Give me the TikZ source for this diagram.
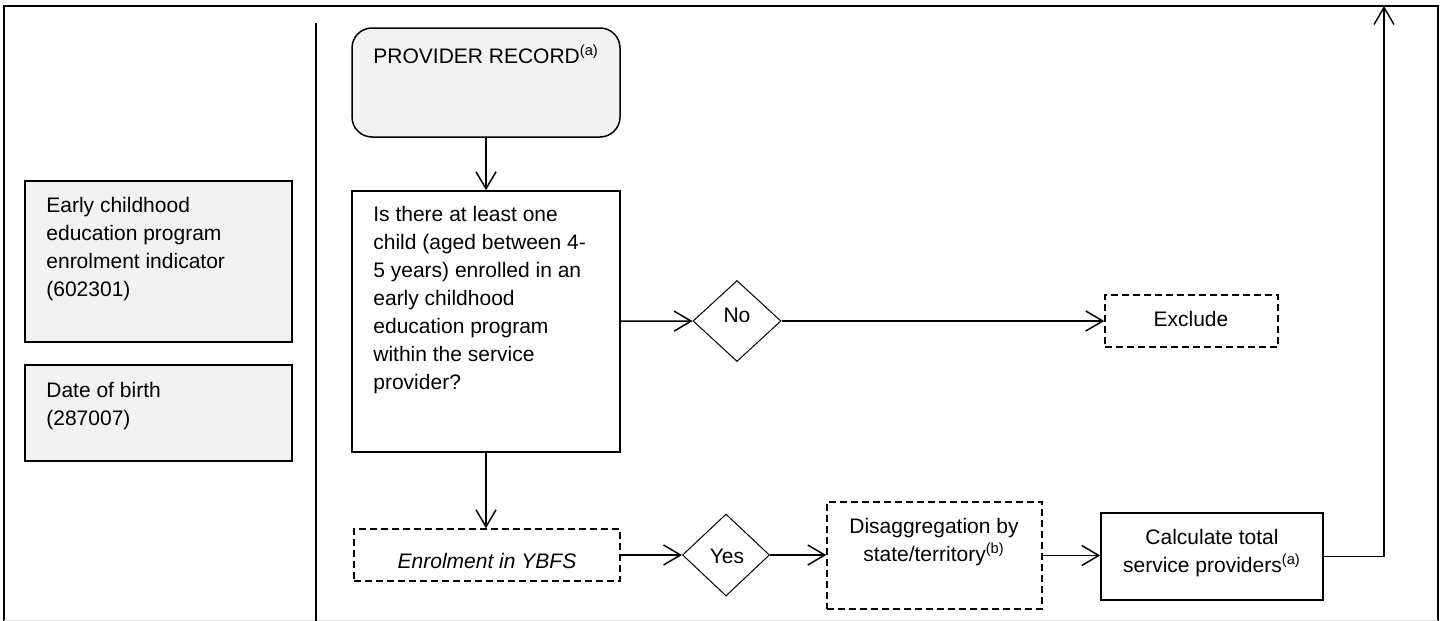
\documentclass[tikz,border=0pt]{standalone}
\usepackage{fontspec}
\setmainfont{Liberation Sans}
\usetikzlibrary{arrows.meta,shapes.geometric,fit}
\definecolor{boxgrey}{HTML}{F2F2F2}
\tikzset{
  txt/.style={inner sep=0pt, font=\fontsize{10.5}{14}\selectfont, align=left},
  ctxt/.style={txt, align=center},
  greybox/.style={draw, fill=boxgrey, line width=0.75pt, inner sep=0pt},
  plainbox/.style={draw, line width=0.75pt, inner sep=0pt},
  dashbox/.style={plainbox, dash pattern=on 3.5pt off 2pt},
  decision/.style={draw, diamond, line width=0.5pt, inner sep=0pt},
  flow/.style={line width=0.75pt, -{Straight Barb[length=8.5pt,width=10pt,line width=0.75pt]}},
}
\begin{document}
\begin{tikzpicture}[x=0.5pt,y=-0.5pt]
	\useasboundingbox (0,0) rectangle (1442,621);
	% Frame and divider
	\draw [line width=0.75pt] (4,621) |- (1438,6) -- (1438,621);
	\draw [black!15, line width=0.75pt] (4,620.6) -- (1438,620.6);
	\draw [line width=0.75pt] (316,23) -- (316,621);
	% Data items
	\node [greybox, fit={(25,181)(292,342)}] (ecep) {};
	\node [txt, anchor=north west] (eceptxt) at (46,197) {Early childhood\\education program\\enrolment indicator\\(602301)};
	\node [greybox, fit={(25,365)(292,461)}] (dob) {};
	\node [txt, anchor=north west] (dobtxt) at (46,382) {Date of birth\\(287007)};
	% Flow
	\node [greybox, rounded corners=10pt, fit={(352,28)(620,137)}] (prov) {};
	\node [txt, anchor=base west] (provtxt) at (373,63) {PROVIDER RECORD\textsuperscript{(a)}};
	\node [plainbox, fit={(352,191)(620,452)}] (quest) {};
	\node [txt, anchor=north west] (questtxt) at (373,206) {Is there at least one\\child (aged between 4-\\5 years) enrolled in an\\early childhood\\education program\\within the service\\provider?};
	\node [decision, minimum width=44pt, minimum height=40.5pt] (no) at (737,321) {};
	\node [ctxt, anchor=base] (notxt) at (737,322) {No};
	\node [dashbox, fit={(1105,295)(1278,347)}] (excl) {};
	\node [ctxt, anchor=base] (excltxt) at (1191,326) {Exclude};
	\node [dashbox, fit={(354,529)(620,581)}] (enrol) {};
	\node [ctxt, anchor=base] (enroltxt) at (487,568) {\textit{Enrolment in YBFS}};
	\node [decision, minimum width=43.5pt, minimum height=41pt] (yes) at (726,555) {};
	\node [ctxt, anchor=base] (yestxt) at (727,563) {Yes};
	\node [dashbox, fit={(827,502)(1042,609)}] (disagg) {};
	\node [ctxt, anchor=north] (disaggtxt) at (934,518) {Disaggregation by\\state/territory\textsuperscript{(b)}};
	\node [plainbox, fit={(1101,513)(1323,600)}] (calc) {};
	\node [ctxt, anchor=north] (calctxt) at (1212,529) {Calculate total\\service providers\textsuperscript{(a)}};
	\coordinate (top) at (1384,6);
	% Connectors
	\draw [flow] (prov) -- (quest);
	\draw [flow] (quest) -- (no);
	\draw [flow] (no) -- (excl);
	\draw [flow] (quest.south) -- (enrol.north -| quest.south);
	\draw [flow] (enrol) -- (yes);
	\draw [flow] (yes.east) -- (yes.east -| disagg.west);
	\draw [flow] (disagg.east) -- (disagg.east -| calc.west);
	\draw [flow] (calc.east) -| (top);
\end{tikzpicture}
\end{document}
